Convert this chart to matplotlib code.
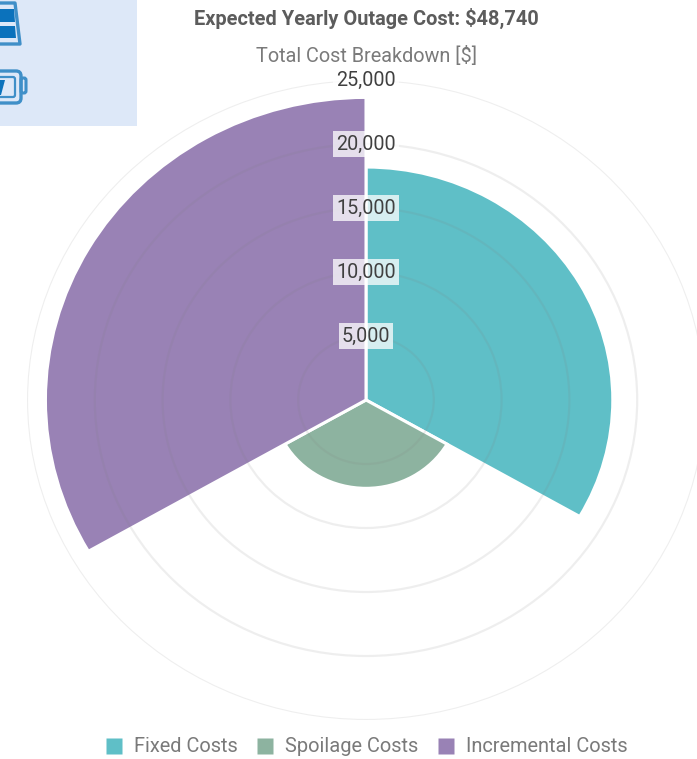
import numpy as np
import matplotlib
matplotlib.use("Agg")
import matplotlib.pyplot as plt
from matplotlib.patches import Rectangle, FancyBboxPatch, Polygon
from matplotlib.lines import Line2D

plt.rcParams['font.family'] = ['Roboto', 'DejaVu Sans']

categories = ["Fixed Costs", "Spoilage Costs", "Incremental Costs"]
values = [18200, 6900, 23640]
colors = ["#5FBFC7", "#8DB3A0", "#9982B5"]
r_ticks = [5000, 10000, 15000, 20000, 25000]
r_labels = ["5,000", "10,000", "15,000", "20,000", "25,000"]
title = "Expected Yearly Outage Cost: $48,740"
subtitle = "Total Cost Breakdown [$]"

W, H = 697, 759
fig = plt.figure(figsize=(W / 100, H / 100), dpi=100, facecolor="white")

# polar plot (slightly stretched horizontally, as in the reference)
cx, cy, rx, ry = 366, 400, 339, 320
ax = fig.add_axes([(cx - rx) / W, (H - cy - ry) / H, 2 * rx / W, 2 * ry / H],
                  projection="polar")
ax.set_aspect("auto")
ax.set_theta_zero_location("N")
ax.set_theta_direction(-1)
ax.set_ylim(0, r_ticks[-1])
ax.patch.set_visible(False)
ax.spines["polar"].set_visible(False)

n = len(values)
width = 2 * np.pi / n
thetas = np.arange(n) * width
ax.bar(thetas, values, width=width, align="edge", color=colors,
       edgecolor="white", linewidth=2.2, zorder=2)

ax.set_xticks([])
ax.set_yticks(r_ticks)
ax.set_yticklabels([])
ax.set_axisbelow(False)
ax.yaxis.grid(True, color="#808080", alpha=0.13, linewidth=1.6, zorder=3)
ax.xaxis.grid(False)
ax.tick_params(axis="y", length=0)

for v, lab in zip(r_ticks, r_labels):
    ax.text(0, v, lab, ha="center", va="center", fontsize=14.2, color="#404040",
            zorder=5, clip_on=False,
            bbox=dict(boxstyle="square,pad=0.16", facecolor="white",
                      edgecolor="none", alpha=0.75))

# title texts
fig.text(cx / W, 1 - 18 / H, title, ha="center", va="center", fontsize=14.4,
         fontweight="bold", color="#5c5c5c")
fig.text(cx / W, 1 - 56 / H, subtitle, ha="center", va="center", fontsize=14.3,
         color="#7a7a7a")

# legend
handles = [Line2D([], [], linestyle="none", marker="s", markersize=11,
                  markerfacecolor=c, markeredgecolor="none") for c in colors]
fig.legend(handles, categories, ncol=3, loc="center",
           bbox_to_anchor=(367 / W, 1 - 747 / H), frameon=False, fontsize=14.4,
           labelcolor="#7a7a7a", columnspacing=1.0, handletextpad=0.62,
           handlelength=0.75, borderpad=0)

# top-left panel with cropped icons
ov = fig.add_axes([0, 0, 1, 1], zorder=10)
ov.set_xlim(0, W)
ov.set_ylim(H, 0)
ov.axis("off")
ov.patch.set_visible(False)
ov.add_patch(Rectangle((0, 0), 137, 126, facecolor="#DDE8F8", edgecolor="none"))
blue = "#3F8FC8"
dark = "#0B72BC"
ov.add_patch(Polygon([(-6, 3), (15, 3), (20, 44), (-6, 44)], closed=True,
                     facecolor="none", edgecolor=blue, linewidth=2.4, joinstyle="round"))
ov.add_patch(Polygon([(-2, 9), (14, 9), (15, 22), (-2, 22)], closed=True,
                     facecolor=dark, edgecolor="none"))
ov.add_patch(Polygon([(-2, 26), (15, 26), (16, 38), (-2, 38)], closed=True,
                     facecolor=dark, edgecolor="none"))
ov.add_patch(FancyBboxPatch((-8, 71), 29, 32, boxstyle="round,pad=0,rounding_size=5",
                            facecolor="none", edgecolor=blue, linewidth=2.4))
ov.add_patch(FancyBboxPatch((-6, 77), 21, 20, boxstyle="round,pad=0,rounding_size=2",
                            facecolor="none", edgecolor=blue, linewidth=1.6))
ov.add_patch(FancyBboxPatch((21, 78), 5, 15, boxstyle="round,pad=0,rounding_size=2",
                            facecolor="none", edgecolor=blue, linewidth=2.2))
ov.add_patch(Polygon([(-2, 80), (5, 80), (1, 95), (-2, 95)], closed=True,
                     facecolor=dark, edgecolor="none"))

fig.savefig("out.png", dpi=100, facecolor="white")
